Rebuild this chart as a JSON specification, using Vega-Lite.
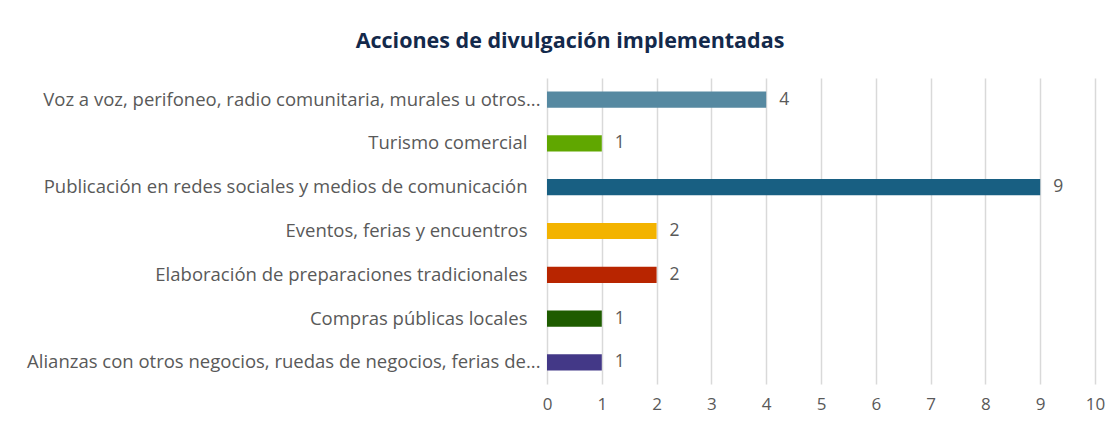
{
  "$schema": "https://vega.github.io/schema/vega-lite/v6.json",
  "autosize": "none",
  "width": 548,
  "height": 306,
  "padding": {"left": 547, "top": 78, "right": 22, "bottom": 42},
  "background": "white",
  "title": {
    "text": "Acciones de divulgación implementadas",
    "font": "Open Sans",
    "fontSize": 21.5,
    "fontWeight": "bold",
    "color": "#13294B",
    "anchor": "middle",
    "dx": -251,
    "offset": 26
  },
  "data": {
    "values": [
      {"accion": "Voz a voz, perifoneo, radio comunitaria, murales u otros...", "n": 4, "color": "#5689A1", "orden": 1},
      {"accion": "Turismo comercial", "n": 1, "color": "#60A700", "orden": 2},
      {"accion": "Publicación en redes sociales y medios de comunicación", "n": 9, "color": "#185F82", "orden": 3},
      {"accion": "Eventos, ferias y encuentros", "n": 2, "color": "#F3B300", "orden": 4},
      {"accion": "Elaboración de preparaciones tradicionales", "n": 2, "color": "#B82500", "orden": 5},
      {"accion": "Compras públicas locales", "n": 1, "color": "#1E5C00", "orden": 6},
      {"accion": "Alianzas con otros negocios, ruedas de negocios, ferias de...", "n": 1, "color": "#433887", "orden": 7}
    ]
  },
  "encoding": {
    "y": {
      "field": "accion",
      "type": "nominal",
      "sort": {"field": "orden", "order": "ascending"},
      "title": null,
      "scale": {"paddingInner": 0.63, "paddingOuter": 0.31},
      "axis": {
        "domain": false,
        "ticks": false,
        "labelFont": "Open Sans",
        "labelFontSize": 18.5,
        "labelColor": "#595959",
        "labelPadding": {"condition": {"test": "indexof(datum.value, '...') >= 0", "value": 7}, "value": 20},
        "labelLimit": 700
      }
    }
  },
  "layer": [
    {
      "mark": {"type": "bar"},
      "encoding": {
        "x": {
          "field": "n",
          "type": "quantitative",
          "scale": {"domain": [0, 10]},
          "title": null,
          "axis": {
            "values": [0,1,2,3,4,5,6,7,8,9,10],
            "labelOverlap": false,
            "labelFlush": false,
            "domain": false,
            "ticks": false,
            "grid": true,
            "gridColor": "#D9D9D9",
            "gridWidth": 1.5,
            "labelFont": "Open Sans",
            "labelFontSize": 17,
            "labelColor": "#595959",
            "labelPadding": 12
          }
        },
        "color": {"field": "color", "type": "nominal", "scale": null, "legend": null}
      }
    },
    {
      "mark": {"type": "text", "align": "left", "dx": 13, "font": "Open Sans", "fontSize": 17.5, "color": "#595959"},
      "encoding": {
        "x": {"field": "n", "type": "quantitative"},
        "text": {"field": "n", "type": "quantitative"}
      }
    }
  ],
  "config": {"view": {"stroke": null}}
}
